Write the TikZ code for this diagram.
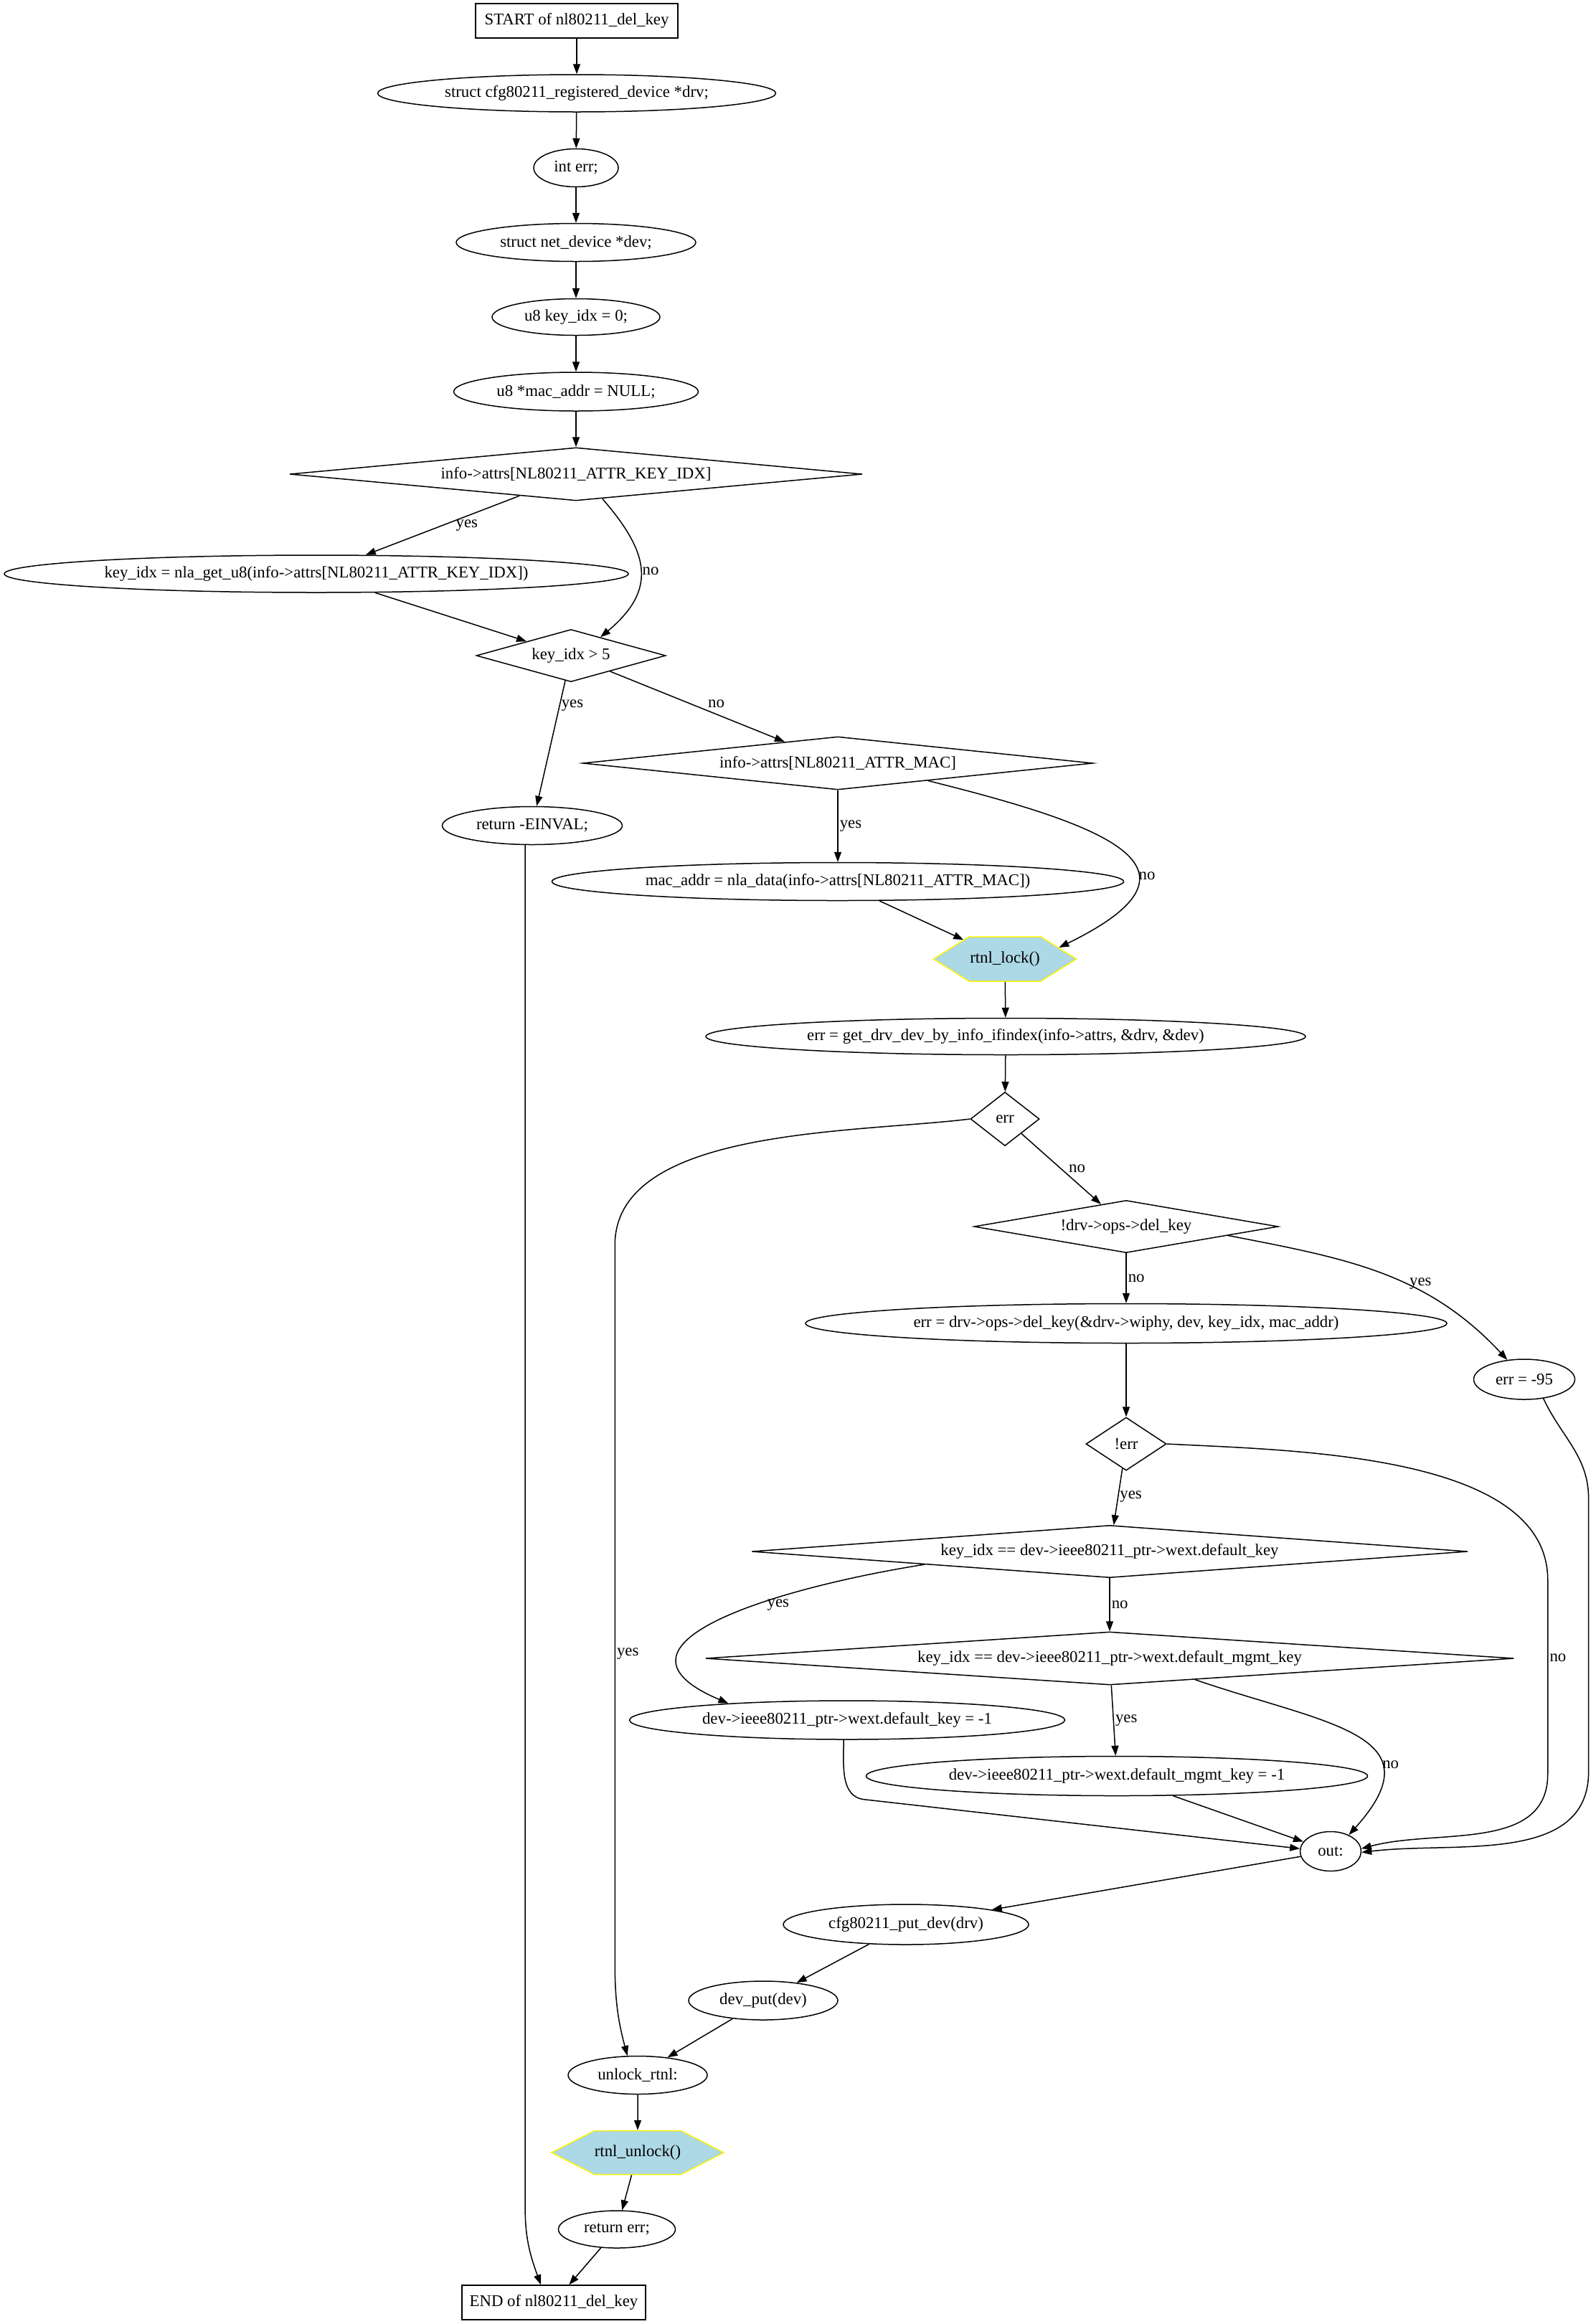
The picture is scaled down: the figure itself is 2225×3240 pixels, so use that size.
\documentclass[tikz,border=0pt]{standalone}
\usepackage{fontspec}
\setmainfont{Liberation Serif}
\usetikzlibrary{shapes.geometric, shapes.symbols, arrows.meta}
\definecolor{callblue}{RGB}{173,216,230}

\begin{document}
\begin{tikzpicture}
        [x=0.5pt, y=-0.5pt, line width=0.75pt,
        every node/.style={font=\fontsize{11.4pt}{13pt}\selectfont},
        stmt/.style={ellipse, draw, inner sep=0pt},
        cond/.style={diamond, draw, inner sep=0pt},
        term/.style={rectangle, draw, inner sep=0pt},
        call/.style={signal, signal to=west and east, draw=yellow, fill=callblue, inner sep=0pt},
        edge/.style={black, -{Triangle[length=7pt, width=5pt]}},
        lbl/.style={inner sep=1pt}]

        \useasboundingbox (0,0) rectangle (2225,3240);

        % declarations
        \node[term, minimum width=141pt, minimum height=24pt] (start) at (804,29) {START of nl80211\_del\_key};
        \node[stmt, minimum width=277.5pt, minimum height=26pt] (drv) at (804,130) {struct cfg80211\_registered\_device *drv;};
        \node[stmt, minimum width=59pt, minimum height=26.5pt] (err) at (803,234) {int err;};
        \node[stmt, minimum width=167pt, minimum height=26.5pt] (dev) at (803,338) {struct net\_device *dev;};
        \node[stmt, minimum width=117pt, minimum height=25.5pt] (keyidx) at (803,442) {u8 key\_idx = 0;};
        \node[stmt, minimum width=170.5pt, minimum height=27pt] (macaddr) at (803,546) {u8 *mac\_addr = NULL;};

        % attribute parsing
        \node[cond, minimum width=399pt, minimum height=37pt, aspect=10.8] (hasidx) at (803,661) {info->attrs[NL80211\_ATTR\_KEY\_IDX]};
        \node[stmt, minimum width=435pt, minimum height=26pt] (getidx) at (441,800) {key\_idx = nla\_get\_u8(info->attrs[NL80211\_ATTR\_KEY\_IDX])};
        \node[cond, minimum width=132pt, minimum height=36.5pt, aspect=3.6] (idxbig) at (796,914) {key\_idx > 5};
        \node[cond, minimum width=355.5pt, minimum height=37pt, aspect=9.6] (hasmac) at (1168,1064) {info->attrs[NL80211\_ATTR\_MAC]};
        \node[stmt, minimum width=125.5pt, minimum height=26.5pt] (einval) at (742,1151) {return -EINVAL;};
        \node[stmt, minimum width=398.5pt, minimum height=26.5pt] (getmac) at (1168,1229) {mac\_addr = nla\_data(info->attrs[NL80211\_ATTR\_MAC])};

        % locked part
        \node[call, minimum width=99.5pt, minimum height=31pt, signal pointer angle=64] (lock) at (1401,1337) {rtnl\_lock()};
        \node[stmt, minimum width=418pt, minimum height=25.5pt] (getdrv) at (1402,1445) {err = get\_drv\_dev\_by\_info\_ifindex(info->attrs, \&drv, \&dev)};
        \node[cond, minimum width=48pt, minimum height=37.5pt, aspect=1.28] (iserr) at (1401,1560) {err};
        \node[cond, minimum width=212pt, minimum height=36.5pt, aspect=5.8] (noop) at (1570,1710) {!drv->ops->del\_key};
        \node[stmt, minimum width=447pt, minimum height=27.5pt] (delkey) at (1570,1845) {err = drv->ops->del\_key(\&drv->wiphy, dev, key\_idx, mac\_addr)};
        \node[stmt, minimum width=70.5pt, minimum height=28pt] (eopnotsupp) at (2125,1923) {err = -95};
        \node[cond, minimum width=56pt, minimum height=37pt, aspect=1.5] (ok) at (1570,2013) {!err};
        \node[cond, minimum width=499pt, minimum height=36.5pt, aspect=13.7] (isdef) at (1547,2163) {key\_idx == dev->ieee80211\_ptr->wext.default\_key};
        \node[cond, minimum width=563.5pt, minimum height=37pt, aspect=15.2] (ismgmt) at (1547,2312) {key\_idx == dev->ieee80211\_ptr->wext.default\_mgmt\_key};
        \node[stmt, minimum width=303.5pt, minimum height=27pt] (cleardef) at (1181,2398) {dev->ieee80211\_ptr->wext.default\_key = -1};
        \node[stmt, minimum width=349.5pt, minimum height=27.5pt] (clearmgmt) at (1557,2476) {dev->ieee80211\_ptr->wext.default\_mgmt\_key = -1};

        % cleanup
        \node[stmt, minimum width=42.5pt, minimum height=27.5pt] (out) at (1855,2581) {out:};
        \node[stmt, minimum width=171pt, minimum height=28pt] (putdrv) at (1263,2683) {cfg80211\_put\_dev(drv)};
        \node[stmt, minimum width=104pt, minimum height=27pt] (putdev) at (1064,2789) {dev\_put(dev)};
        \node[stmt, minimum width=97pt, minimum height=26.5pt] (unlock) at (889,2893) {unlock\_rtnl:};
        \node[call, minimum width=120pt, minimum height=30.5pt, signal pointer angle=54] (unlockfn) at (889,3001) {rtnl\_unlock()};
        \node[stmt, minimum width=81.5pt, minimum height=26pt] (ret) at (860,3108) {return err;};
        \node[term, minimum width=128pt, minimum height=24pt] (end) at (772,3210) {END of nl80211\_del\_key};

        % straight chain at the top
        \draw[edge] (start) -- (drv);
        \draw[edge] (drv) -- (err);
        \draw[edge] (err) -- (dev);
        \draw[edge] (dev) -- (keyidx);
        \draw[edge] (keyidx) -- (macaddr);
        \draw[edge] (macaddr) -- (hasidx);

        \draw[edge] (hasidx) -- (getidx) node[lbl, midway, right=8pt] {yes};
        \draw[edge] (hasidx.-43) to[out=-49, in=40, looseness=1.35] node[lbl, midway, right] {no} (idxbig.32);
        \draw[edge] (getidx) -- (idxbig);
        \draw[edge] (idxbig) -- (einval) node[lbl, pos=0.2, right] {yes};
        \draw[edge] (idxbig) -- (hasmac) node[lbl, pos=0.55, above right] {no};
        \draw[edge] (einval.250) -- ++(0,1900) to[out=-90, in=110] ([xshift=-9pt]end.north);

        \draw[edge] (hasmac) -- (getmac) node[lbl, midway, right] {yes};
        \draw[edge] (hasmac.-11) to[out=-14, in=26, looseness=2.2] node[lbl, pos=0.65, right] {no} (lock.12);
        \draw[edge] (getmac) -- (lock);
        \draw[edge] (lock) -- (getdrv);
        \draw[edge] (getdrv) -- (iserr);

        % err: long drop to unlock_rtnl
        \draw[edge] (iserr.west) to[out=187, in=90, looseness=0.8] ++(-495,176)
            -- node[lbl, pos=0.57, right] {yes} ++(0,1000) to[out=-90, in=105] (unlock.118);
        \draw[edge] (iserr) -- (noop) node[lbl, midway, right=4pt] {no};
        \draw[edge] (noop) -- (delkey) node[lbl, midway, right] {no};
        \draw[edge] (noop.-5) to[out=-11, in=133] node[lbl, pos=0.65, above] {yes} (eopnotsupp.131);
        \draw[edge] (delkey) -- (ok);
        \draw[edge] (ok) -- (isdef) node[lbl, midway, right] {yes};

        % the two long right-hand branches into out
        \draw[edge] (ok.east) to[out=-3, in=90, looseness=0.8] ++(531,190)
            -- node[lbl, pos=0.4, right] {no} ++(0,270) to[out=-90, in=15] (out.5);
        \draw[edge] (eopnotsupp.-45) to[out=-65, in=90] ++(63,140) -- ++(0,380) to[out=-90, in=7] (out.-2);

        \draw[edge] (isdef.184) to[out=189, in=157, looseness=1.6] node[lbl, pos=0.33, below] {yes} (cleardef.172);
        \draw[edge] (isdef) -- (ismgmt) node[lbl, midway, right] {no};
        \draw[edge] (ismgmt) -- (clearmgmt) node[lbl, midway, right] {yes};
        \draw[edge] (ismgmt.-14) to[out=-19, in=48, looseness=1.6] node[lbl, pos=0.7, right] {no} (out.42);
        \draw[edge] (cleardef.260) to[out=-90, in=174] ++(29,83) -- (out.175);
        \draw[edge] (clearmgmt) -- (out);

        \draw[edge] (out) -- (putdrv);
        \draw[edge] (putdrv) -- (putdev);
        \draw[edge] (putdev) -- (unlock);
        \draw[edge] (unlock) -- (unlockfn);
        \draw[edge] (unlockfn) -- (ret);
        \draw[edge] (ret) -- (end);
    \end{tikzpicture}
\end{document}
